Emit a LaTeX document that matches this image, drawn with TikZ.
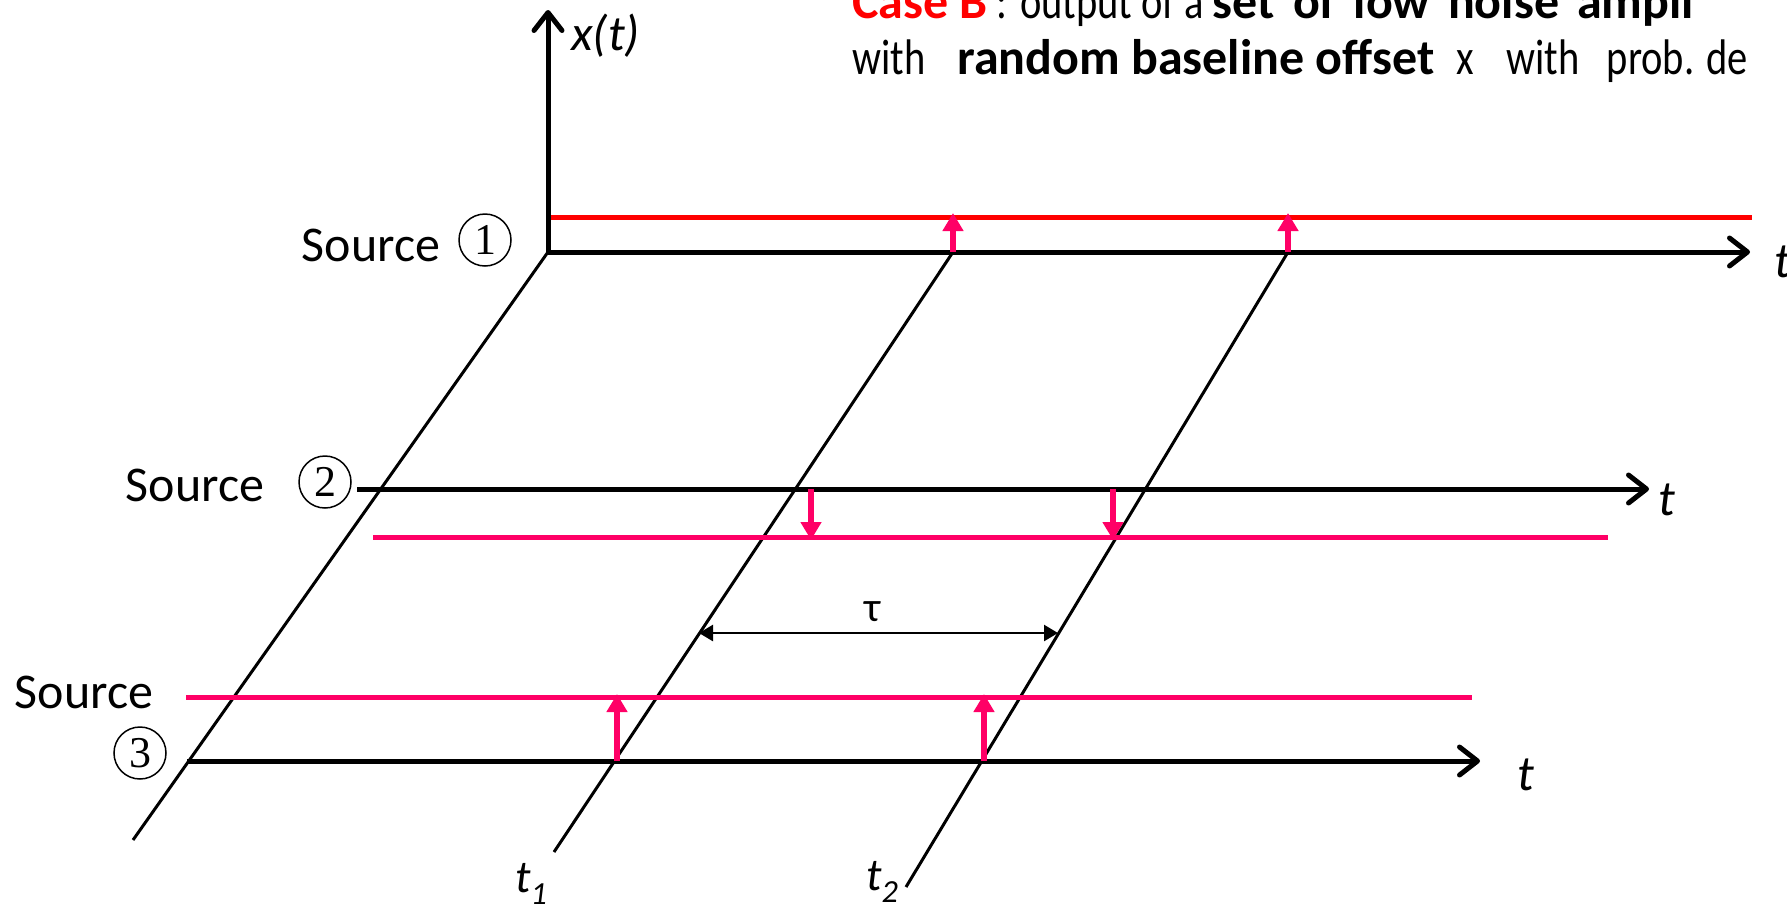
\documentclass[tikz,border=0pt]{standalone}
\usepackage{fontspec}
\usepackage{graphicx}
\setmainfont{Carlito}
\newfontfamily\digitfont{Liberation Serif}
\usetikzlibrary{arrows.meta}
\definecolor{myred}{RGB}{255,0,0}
\definecolor{mypink}{RGB}{255,0,102}
\newcommand{\narrow}[1]{\scalebox{0.81}[1]{#1}}
\begin{document}
\begin{tikzpicture}[x=1pt,y=-1pt,
  axisline/.style={line width=5pt,-{Straight Barb[length=18pt,width=28pt,line width=5pt,round]}},
  slant/.style={line width=3pt},
  redline/.style={line width=5pt,myred},
  pinkline/.style={line width=5pt,mypink},
  jump/.style={line width=6pt,mypink,-{Triangle[length=18pt,width=20pt]}},
  delay/.style={line width=2.5pt,{Triangle[length=14pt,width=16pt]}-{Triangle[length=14pt,width=16pt]}},
  big/.style={font=\fontsize{50}{60}\selectfont},
  title/.style={font=\fontsize{50}{60}\selectfont,anchor=base west,inner sep=0pt},
  num/.style={circle,draw,line width=1.5pt,minimum size=52pt,inner sep=0pt,font=\digitfont\fontsize{44}{44}\selectfont}]
\useasboundingbox (0,0) rectangle (1787,911);

% coordinates
\coordinate (O) at (548,252);
\coordinate (ytop) at (548,10);
\coordinate (a1e) at (1750,252);
\coordinate (r1s) at (548,217);
\coordinate (r1e) at (1752,217);
\coordinate (a2s) at (357,489);
\coordinate (a2e) at (1649,489);
\coordinate (p2s) at (373,537);
\coordinate (p2e) at (1608,537);
\coordinate (a3s) at (187,761);
\coordinate (a3e) at (1480,761);
\coordinate (p3s) at (186,697);
\coordinate (p3e) at (1472,697);
\coordinate (L1e) at (133,840);
\coordinate (L2s) at (953,252);
\coordinate (L2e) at (554,852);
\coordinate (L3s) at (1288,252);
\coordinate (L3e) at (906,887);
% jump arrows
\coordinate (j1a) at (953,252);  \coordinate (j1b) at (953,213);
\coordinate (j2a) at (1288,252); \coordinate (j2b) at (1288,213);
\coordinate (j3a) at (811,489);  \coordinate (j3b) at (811,540);
\coordinate (j4a) at (1113,489); \coordinate (j4b) at (1113,540);
\coordinate (j5a) at (617,761);  \coordinate (j5b) at (617,694);
\coordinate (j6a) at (984,761);  \coordinate (j6b) at (984,694);
\coordinate (tauL) at (699,633);
\coordinate (tauR) at (1058,633);

% slanted time lines
\draw[slant] (O) -- (L1e);
\draw[slant] (L2s) -- (L2e);
\draw[slant] (L3s) -- (L3e);

% signal lines
\draw[redline] (r1s) -- (r1e);
\draw[pinkline] (p2s) -- (p2e);
\draw[pinkline] (p3s) -- (p3e);

% axes
\draw[axisline] (O) -- (ytop);
\draw[axisline] (O) -- (a1e);
\draw[axisline] (a2s) -- (a2e);
\draw[axisline] (a3s) -- (a3e);

% jumps
\draw[jump] (j1a) -- (j1b);
\draw[jump] (j2a) -- (j2b);
\draw[jump] (j3a) -- (j3b);
\draw[jump] (j4a) -- (j4b);
\draw[jump] (j5a) -- (j5b);
\draw[jump] (j6a) -- (j6b);

% tau
\draw[delay] (tauL) -- (tauR);
\node[font=\fontsize{42}{50}\selectfont] (tau) at (873,612) {τ};

% labels
\node[big,anchor=west,inner sep=0pt] (xt) at (571,36) {\itshape x(t)};
\node[big,anchor=west,inner sep=0pt] (t1ax) at (1774,262) {\itshape t};
\node[big,anchor=west,inner sep=0pt] (t2ax) at (1658,500) {\itshape t};
\node[big,anchor=west,inner sep=0pt] (t3ax) at (1517,775) {\itshape t};
\node[anchor=base west,inner sep=0pt,font=\fontsize{46}{50}\selectfont] (tone) at (515,892) {\itshape t\textsubscript{1}};
\node[anchor=base west,inner sep=0pt,font=\fontsize{46}{50}\selectfont] (ttwo) at (866,890) {\itshape t\textsubscript{2}};

\node[big,inner sep=0pt] (s1) at (371,245) {Source};
\node[num] (c1) at (485,240) {1};
\node[big,inner sep=0pt] (s2) at (195,485) {Source};
\node[num] (c2) at (325,482) {2};
\node[big,inner sep=0pt] (s3) at (84,692) {Source};
\node[num] (c3) at (140,753) {3};

% title
\node[title] (ti1) at (852,18) {\textcolor{myred}{\textbf{Case B}}\narrow{ : output of a }\textbf{set\hspace{18pt}of\hspace{18pt}low\hspace{18pt}noise\hspace{18pt}ampli}};
\node[title] (ti2) at (852,74) {\narrow{with}\hspace{32pt}\textbf{random baseline offset}\hspace{22pt}\narrow{x}\hspace{33pt}\narrow{with}\hspace{27pt}\narrow{prob.}\hspace{12pt}\narrow{de}};
\end{tikzpicture}
\end{document}
